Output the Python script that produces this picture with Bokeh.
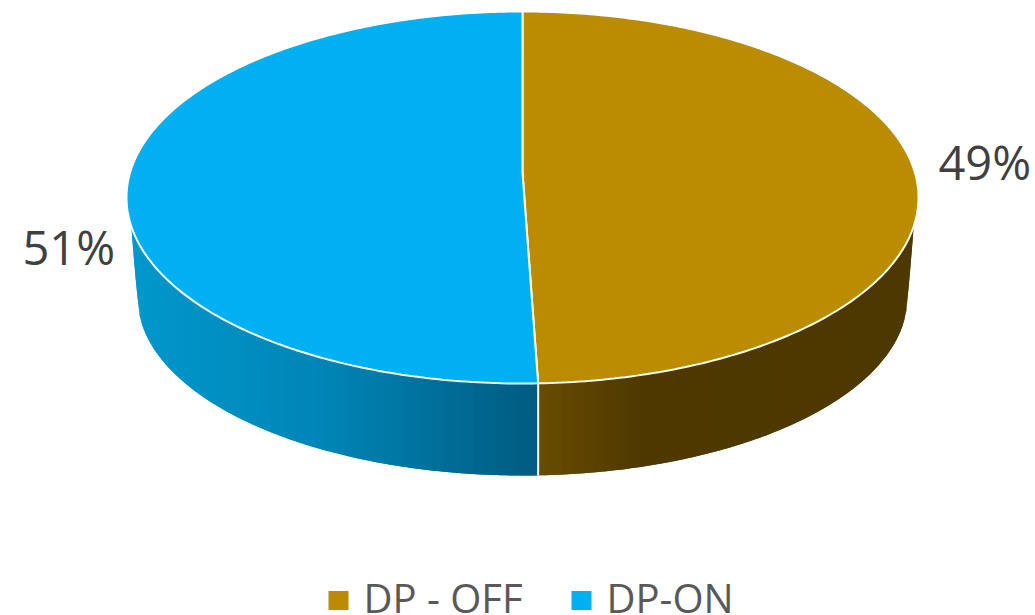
import numpy as np
from bokeh.plotting import figure
from bokeh.models import Range1d
from bokeh.core.properties import value
from bokeh.embed import file_html
from bokeh.resources import INLINE

categories = ["DP - OFF", "DP-ON"]
shares = [49.45, 50.55]
slice_colors = ["#BC8C00", "#00B0F0"]
label_text = [f"{round(v)}%" for v in shares]

# Geometry of the tilted pie (page pixels)
CX, CY, RX, RY = 522.0, 197.0, 396.0, 186.0
BCX, BCY, BRX, BRY = 522.0, 297.0, 385.0, 178.0
TILT = -0.134
EDGE_DEG = 9.0

gold_x, gold_c = [537, 640, 920], ["#684C00", "#4F3900", "#4D3800"]
blue_x, blue_c = [128, 330, 537], ["#0098CD", "#0084B5", "#005B80"]


def hex_rgb(h):
    return np.array([int(h[i:i + 2], 16) for i in (1, 3, 5)], float)


def ramp(x, xs, cs):
    rgb = np.array([hex_rgb(c) for c in cs])
    return "#%02X%02X%02X" % tuple(int(round(np.interp(x, xs, rgb[:, i]))) for i in range(3))


def top_point(theta):
    """theta: radians clockwise from twelve o'clock, on the perspective disc."""
    u, v = np.sin(theta), -np.cos(theta)
    d = 1 + TILT * v
    return CX + RX * u * np.sqrt(1 - TILT ** 2) / d, CY + RY * (v + TILT) / d


CORNER = RX * np.cos(np.radians(EDGE_DEG))


def wall_top(x):
    return CY + RY * np.sqrt(np.clip(1 - ((x - CX) / RX) ** 2, 0, 1))


def wall_bottom(x):
    dx = abs(x - BCX)
    if dx <= BRX:
        return BCY + BRY * np.sqrt(1 - (dx / BRX) ** 2)
    return wall_top(x) + (BCY - wall_top(x)) * (CORNER - dx) / (CORNER - BRX)


p = figure(width=1035, height=615, output_backend="svg", toolbar_location=None,
           x_range=Range1d(0, 1035), y_range=Range1d(615, 0),
           min_border=0, outline_line_color=None, background_fill_color="white",
           border_fill_color="white")
p.axis.visible = False
p.grid.visible = False

boundary = shares[0] / sum(shares) * 2 * np.pi
bx, by = top_point(boundary)

# side walls: thin vertical strips shaded by horizontal position; each strip
# runs on to the next strip's far edge so that no seams show through
for x0, x1, xs, cs in [(bx, CX + CORNER, gold_x, gold_c),
                       (CX - CORNER, bx, blue_x, blue_c)]:
    edges = np.r_[x0, np.arange(np.floor(x0) + 1, x1, 2.0), x1]
    px, py, col = [], [], []
    for i in range(len(edges) - 1):
        s, e = edges[i], edges[min(i + 2, len(edges) - 1)]
        px.append([s, e, e, s])
        py.append([wall_top(s), wall_top(e), wall_bottom(e), wall_bottom(s)])
        col.append(ramp((edges[i] + edges[i + 1]) / 2, xs, cs))
    p.patches(px, py, fill_color=col, line_color=None)

p.line([bx, bx], [by, wall_bottom(bx)], line_color="white", line_width=2)

# top faces
apex_x, apex_y = CX, CY + RY * TILT
arcs = [np.linspace(0, boundary, 240), np.linspace(boundary, 2 * np.pi, 240)]
for th, c in zip(arcs, slice_colors):
    ax, ay = top_point(th)
    p.patch(np.r_[apex_x, ax], np.r_[apex_y, ay], fill_color=c, line_color="white", line_width=2)

# percentage labels
p.text([938], [161], text=[label_text[0]], text_font=value("Open Sans"), text_font_size="47px",
       text_color="#404040", text_baseline="middle")
p.text([22], [246], text=[label_text[1]], text_font=value("Open Sans"), text_font_size="47px",
       text_color="#404040", text_baseline="middle")

# legend
p.rect([338, 581], [600, 600], width=20, height=19, fill_color=slice_colors, line_color=None)
p.text([363, 606], [597, 597], text=categories, text_font=value("Open Sans"), text_font_size="40px",
       text_color="#595959", text_baseline="middle")

open("out.html", "w").write(file_html(p, INLINE))
